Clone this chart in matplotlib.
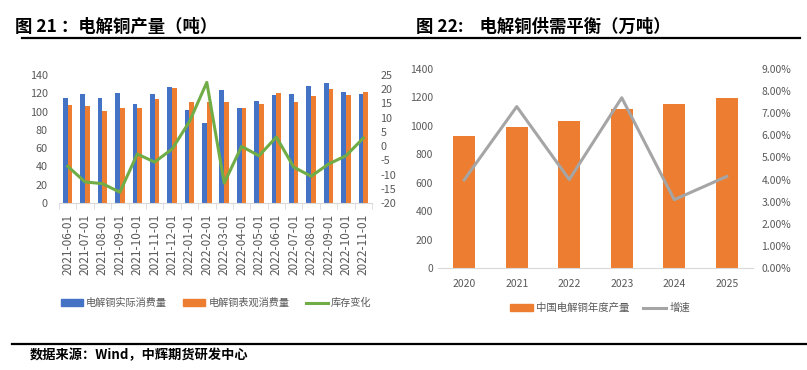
import numpy as np
import matplotlib
matplotlib.use("Agg")
import matplotlib.pyplot as plt
from matplotlib.lines import Line2D
from matplotlib.patches import Patch
from matplotlib.ticker import FuncFormatter

plt.rcParams['font.family'] = ['Noto Sans CJK SC', 'DejaVu Sans']
plt.rcParams['axes.unicode_minus'] = False

# left chart data
months = ["2021-06-01", "2021-07-01", "2021-08-01", "2021-09-01", "2021-10-01",
          "2021-11-01", "2021-12-01", "2022-01-01", "2022-02-01", "2022-03-01",
          "2022-04-01", "2022-05-01", "2022-06-01", "2022-07-01", "2022-08-01",
          "2022-09-01", "2022-10-01", "2022-11-01"]
actual_use = [114.5, 119, 114.5, 120.4, 108, 119.6, 127, 102, 87.6, 123.6,
              104.4, 112, 117.8, 119, 128, 131.3, 121, 119]
apparent_use = [107, 106, 101, 103.6, 104.4, 113.8, 126, 110.5, 110, 111,
                104.4, 108.7, 120.4, 111, 117, 124.7, 117.8, 121]
stock_change = [-7.1, -12.6, -13.2, -16.2, -2.8, -5.6, -1.05, 8.6, 22.4, -13,
                -0.1, -3.4, 3.2, -7.4, -10.6, -6.3, -3.4, 2.8]

# right chart data
years = ["2020", "2021", "2022", "2023", "2024", "2025"]
output = [929, 995, 1037, 1119, 1152, 1199]
growth = [3.99, 7.3, 4.0, 7.7, 3.09, 4.14]

BLUE = "#4472C4"
ORANGE = "#ED7D31"
GREEN = "#70AD47"
GRAY = "#A5A5A5"
TXT = "#595959"

fig = plt.figure(figsize=(8.07, 3.70), dpi=100)

# titles and rules
fig.text(15 / 807, 1 - 27 / 370, "图 21 ：电解铜产量（吨）", fontsize=12.5, fontweight="bold",
         va="center", ha="left")
fig.text(416 / 807, 1 - 27 / 370, "图 22:    电解铜供需平衡（万吨）", fontsize=12.5, fontweight="bold",
         va="center", ha="left")
fig.add_artist(Line2D([22 / 807, 800 / 807], [1 - 38 / 370] * 2, color="black", lw=1.6))
fig.add_artist(Line2D([12 / 807, 1.0], [1 - 344 / 370] * 2, color="black", lw=1.6))
fig.text(30 / 807, 1 - 355 / 370, "数据来源：Wind，中辉期货研发中心", fontsize=9.5, fontweight="bold",
         va="center", ha="left")

# ---- left chart
ax = fig.add_axes([59 / 807, 1 - 203 / 370, 313 / 807, 128 / 370])
x = np.arange(len(months))
w = 0.27
ax.bar(x - w / 2, actual_use, w, color=BLUE)
ax.bar(x + w / 2, apparent_use, w, color=ORANGE)
ax.set_xlim(-0.5, len(months) - 0.5)
ax.set_ylim(0, 140)
ax.set_yticks(range(0, 141, 20))
ax.set_xticks(x)
ax.set_xticklabels(months, rotation=90, fontsize=8.5, color=TXT)
ax.set_xticks(np.arange(-0.5, len(months)), minor=True)
ax.tick_params(axis="x", which="major", length=0, pad=8)
ax.tick_params(axis="x", which="minor", length=4, color="#D9D9D9")
ax.tick_params(axis="y", length=0, labelsize=7.8, labelcolor=TXT, pad=8)
for s in ["top", "right", "left"]:
    ax.spines[s].set_visible(False)
ax.spines["bottom"].set_color("#D9D9D9")

ax2 = ax.twinx()
ax2.plot(x, stock_change, color=GREEN, lw=2.2)
ax2.set_ylim(-20, 25)
ax2.set_yticks(range(-20, 26, 5))
ax2.tick_params(axis="y", length=0, labelsize=7.8, labelcolor=TXT, pad=6)
for s in ax2.spines.values():
    s.set_visible(False)

fig.legend(handles=[Patch(color=BLUE, label="电解铜实际消费量"),
                    Patch(color=ORANGE, label="电解铜表观消费量"),
                    Line2D([], [], color=GREEN, lw=2.2, label="库存变化")],
           loc="center", bbox_to_anchor=(216 / 807, 1 - 303 / 370), ncol=3, frameon=False,
           fontsize=7.3, labelcolor=TXT, handlelength=2.2, handleheight=0.7,
           columnspacing=1.6, handletextpad=0.3)

# ---- right chart
bx = fig.add_axes([438 / 807, 1 - 268 / 370, 315 / 807, 199 / 370])
xr = np.arange(len(years))
bx.bar(xr, output, 0.41, color=ORANGE)
bx.set_xlim(-0.5, len(years) - 0.5)
bx.set_ylim(0, 1400)
bx.set_yticks(range(0, 1401, 200))
bx.set_xticks(xr)
bx.set_xticklabels(years)
bx.tick_params(axis="x", length=0, labelsize=7.5, labelcolor=TXT, pad=8)
bx.tick_params(axis="y", length=0, labelsize=7.5, labelcolor=TXT)
for s in ["top", "right", "left"]:
    bx.spines[s].set_visible(False)
bx.spines["bottom"].set_color("#D9D9D9")

bx2 = bx.twinx()
bx2.plot(xr, growth, color=GRAY, lw=2.2)
bx2.set_ylim(0, 9)
bx2.set_yticks(range(0, 10))
bx2.yaxis.set_major_formatter(FuncFormatter(lambda v, p: f"{v:.2f}%"))
bx2.tick_params(axis="y", length=0, labelsize=7.5, labelcolor=TXT, pad=6)
for s in bx2.spines.values():
    s.set_visible(False)

fig.legend(handles=[Patch(color=ORANGE, label="中国电解铜年度产量"),
                    Line2D([], [], color=GRAY, lw=2.2, label="增速")],
           loc="center", bbox_to_anchor=(600 / 807, 1 - 308 / 370), ncol=2, frameon=False,
           fontsize=7.5, labelcolor=TXT, handlelength=2.2, handleheight=0.7,
           columnspacing=1.3, handletextpad=0.3)

fig.savefig("out.png", dpi=100)
